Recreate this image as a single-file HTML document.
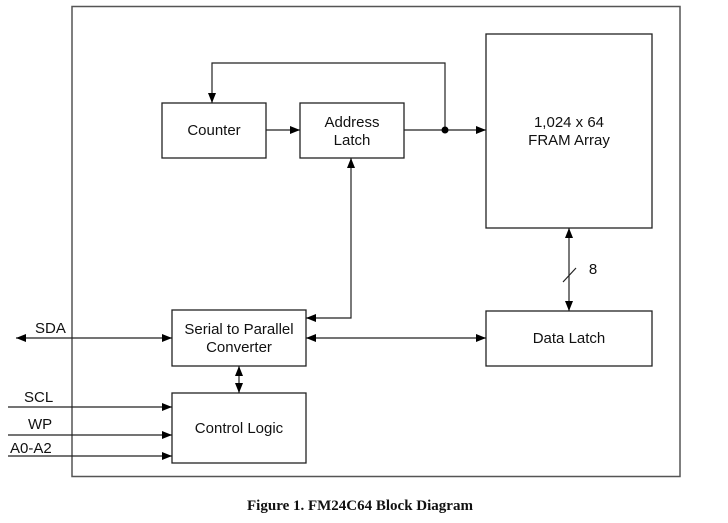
<!DOCTYPE html>
<html><head><style>
html,body{margin:0;padding:0;background:#fff;width:728px;height:523px;overflow:hidden}
svg{display:block}
text{font-family:"Liberation Sans",Arial,sans-serif;font-size:15px;fill:#111}
</style></head><body>
<svg width="728" height="523" viewBox="0 0 728 523" xmlns="http://www.w3.org/2000/svg">
<defs>
<marker id="a" markerWidth="10" markerHeight="8" refX="10" refY="4" orient="auto-start-reverse" markerUnits="userSpaceOnUse">
<path d="M0,0 L10,4 L0,8 z" fill="#000"/></marker>
</defs>
<rect x="72" y="6.5" width="608" height="470" fill="none" stroke="#555" stroke-width="1.5"/>
<g fill="none" stroke="#222" stroke-width="1.3">
<rect x="162" y="103" width="104" height="55"/>
<rect x="300" y="103" width="104" height="55"/>
<rect x="486" y="34" width="166" height="194"/>
<rect x="486" y="311" width="166" height="55"/>
<rect x="172" y="310" width="134" height="56"/>
<rect x="172" y="393" width="134" height="70"/>
</g>
<g fill="none" stroke="#222" stroke-width="1.2">
<line x1="266" y1="130" x2="300" y2="130" marker-end="url(#a)"/>
<line x1="404" y1="130" x2="486" y2="130" marker-end="url(#a)"/>
<polyline points="445,130 445,63 212,63 212,103" marker-end="url(#a)"/>
<polyline points="351,158 351,318 306,318" marker-start="url(#a)" marker-end="url(#a)"/>
<line x1="306" y1="338" x2="486" y2="338" marker-start="url(#a)" marker-end="url(#a)"/>
<line x1="569" y1="228" x2="569" y2="311" marker-start="url(#a)" marker-end="url(#a)"/>
<line x1="563" y1="282" x2="576" y2="268"/>
<line x1="16" y1="338" x2="172" y2="338" marker-start="url(#a)" marker-end="url(#a)"/>
<line x1="239" y1="366" x2="239" y2="393" marker-start="url(#a)" marker-end="url(#a)"/>
<line x1="8" y1="407" x2="172" y2="407" marker-end="url(#a)"/>
<line x1="8" y1="435" x2="172" y2="435" marker-end="url(#a)"/>
<line x1="8" y1="456" x2="172" y2="456" marker-end="url(#a)"/>
</g>
<circle cx="445" cy="130" r="3.5" fill="#000"/>
<text x="214" y="135" text-anchor="middle">Counter</text>
<text x="352" y="127" text-anchor="middle">Address</text>
<text x="352" y="145" text-anchor="middle">Latch</text>
<text x="569" y="127" text-anchor="middle">1,024 x 64</text>
<text x="569" y="145" text-anchor="middle">FRAM Array</text>
<text x="593" y="274" text-anchor="middle">8</text>
<text x="569" y="343" text-anchor="middle">Data Latch</text>
<text x="239" y="334" text-anchor="middle">Serial to Parallel</text>
<text x="239" y="352" text-anchor="middle">Converter</text>
<text x="239" y="433" text-anchor="middle">Control Logic</text>
<text x="35" y="333">SDA</text>
<text x="24" y="402">SCL</text>
<text x="28" y="429">WP</text>
<text x="10" y="453">A0-A2</text>
<text x="360" y="510" text-anchor="middle" style="font-family:'Liberation Serif',serif;font-weight:bold;font-size:15px">Figure 1. FM24C64 Block Diagram</text>
</svg>
</body></html>
